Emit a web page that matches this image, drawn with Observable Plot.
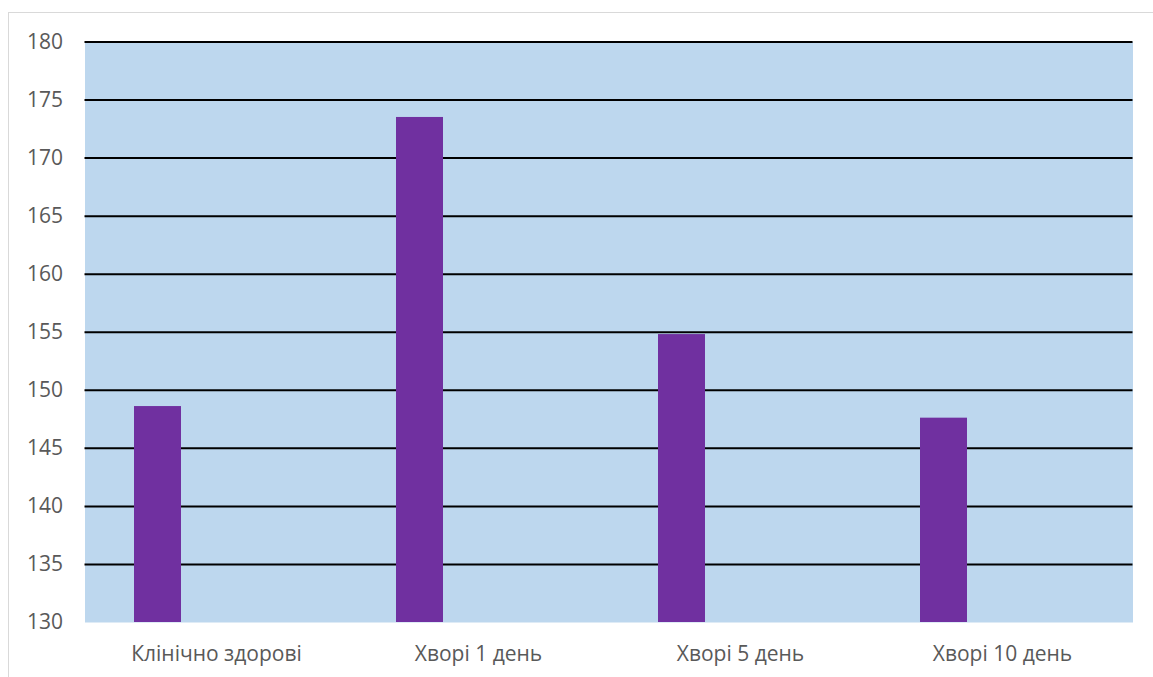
<!DOCTYPE html>
<html>
<head>
<meta charset="utf-8">
<script src="https://cdn.jsdelivr.net/npm/d3@7"></script>
<script src="https://cdn.jsdelivr.net/npm/@observablehq/plot@0.6"></script>
<style>
  html, body { margin: 0; padding: 0; background: #fff; overflow: hidden; }
  #wrap { position: relative; width: 1153px; height: 677px; }
  #edge { position: absolute; left: 8px; top: 12px; width: 1200px; height: 700px;
          border: 1px solid #d9d9d9; box-sizing: border-box; pointer-events: none; }
  svg { display: block; }
</style>
</head>
<body>
<div id="wrap"><div id="edge"></div></div>
<script>
// Groups and the measured value for each
const categories = ["Клінічно здорові", "Хворі 1 день", "Хворі 5 день", "Хворі 10 день"];
const values = [148.6, 173.5, 154.8, 147.6];
// Value axis ticks
const yTicks = [130, 135, 140, 145, 150, 155, 160, 165, 170, 175, 180];
const gridTicks = yTicks.slice(1);

const data = categories.map((c, i) => ({category: c, value: values[i]}));

const chart = Plot.plot({
  width: 1153,
  height: 677,
  marginLeft: 84.5,
  marginRight: 20.5,
  marginTop: 41.5,
  marginBottom: 55,
  style: {fontFamily: "'Open Sans', sans-serif", fontSize: "21px", color: "#595959", background: "transparent"},
  x: {domain: categories, padding: 0, label: null, tickSize: 0, tickPadding: 24},
  y: {domain: [130, 180], ticks: yTicks, label: null, tickSize: 0, tickPadding: 22},
  marks: [
    Plot.frame({fill: "#BDD7EE", stroke: null}),
    Plot.ruleY(gridTicks, {stroke: "#000", strokeWidth: 2}),
    Plot.barY(data, {x: "category", y1: 130, y2: "value", fill: "#7030A0", insetLeft: 49, insetRight: 166})
  ]
});
document.getElementById("wrap").prepend(chart);
</script>
</body>
</html>
